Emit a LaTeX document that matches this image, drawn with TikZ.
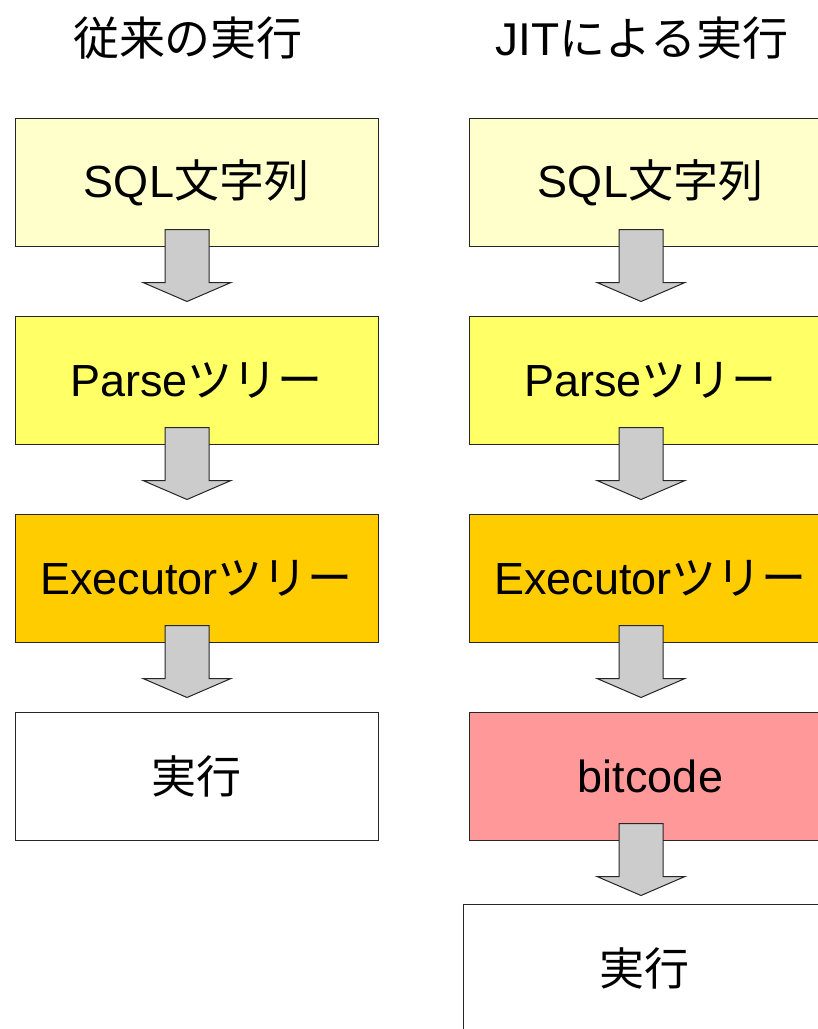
\documentclass[tikz,border=0pt]{standalone}
\usepackage{fontspec}
\setmainfont{Liberation Sans}
\newfontfamily\cjk{Noto Sans CJK JP}
\usetikzlibrary{positioning}
\definecolor{sqlyellow}{HTML}{FFFFCC}
\definecolor{parseyellow}{HTML}{FFFF66}
\definecolor{execorange}{HTML}{FFCC00}
\definecolor{bitpink}{HTML}{FF9999}
\definecolor{arrowgray}{HTML}{CCCCCC}
\tikzset{stagebox/.style={rectangle,draw=black!85,line width=1pt,outer sep=0pt,
inner sep=0pt,minimum height=128pt, minimum width=363pt,font=\fontsize{45}{54}\selectfont}}
\tikzset{coltitle/.style={inner sep=0pt,font=\fontsize{46}{55}\selectfont}}
\tikzset{blockarrow/.style={draw=black!85,line width=1pt,fill=arrowgray,line join=miter}}
% block arrow hanging below a box
\newcommand{\stagearrow}[1]{\draw[blockarrow] ([xshift=-31.5pt,yshift=17pt]#1.south) -- ([xshift=12.5pt,yshift=17pt]#1.south) -- ([xshift=12.5pt,yshift=-36pt]#1.south) -- ([xshift=34.5pt,yshift=-36pt]#1.south) -- ([xshift=-9.5pt,yshift=-55pt]#1.south) -- ([xshift=-53.5pt,yshift=-36pt]#1.south) -- ([xshift=-31.5pt,yshift=-36pt]#1.south) -- cycle;}

\begin{document}
\begin{tikzpicture}[x=1pt,y=1pt]
    \clip (0,0) rectangle (818,-1029);
    \useasboundingbox (0,0) rectangle (818,-1029);

    \node[coltitle] (titleL) at (188,-38) {\cjk 従来の実行};
    \node[coltitle] (titleR) at (642,-38) {JIT{\cjk による実行}};

    % left column
    \node[stagebox,fill=sqlyellow] (sqlL) at (196.5,-182.5) {SQL{\cjk 文字列}};
    \node[stagebox,fill=parseyellow] (parseL) [below=70pt of sqlL] {Parse{\cjk ツリー}};
    \node[stagebox,fill=execorange] (execL) [below=70pt of parseL] {Executor{\cjk ツリー}};
    \node[stagebox,fill=white] (runL) [below=70pt of execL] {\cjk 実行};

    % right column
    \node[stagebox,fill=sqlyellow] (sqlR) at (650.5,-182.5) {SQL{\cjk 文字列}};
    \node[stagebox,fill=parseyellow] (parseR) [below=70pt of sqlR] {Parse{\cjk ツリー}};
    \node[stagebox,fill=execorange] (execR) [below=70pt of parseR] {Executor{\cjk ツリー}};
    \node[stagebox,fill=bitpink] (bitR) [below=70pt of execR] {bitcode};
    \node[stagebox,fill=white] (runR) [below=64pt of bitR,xshift=-6pt] {\cjk 実行};

    \stagearrow{sqlL}
    \stagearrow{parseL}
    \stagearrow{execL}
    \stagearrow{sqlR}
    \stagearrow{parseR}
    \stagearrow{execR}
    \stagearrow{bitR}

\end{tikzpicture}
\end{document}
